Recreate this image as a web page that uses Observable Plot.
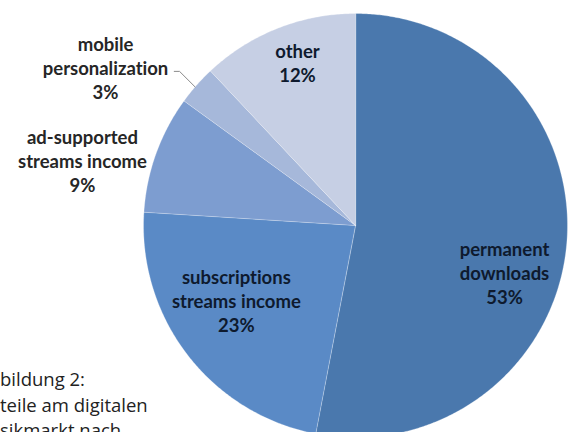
<!DOCTYPE html>
<html><head><meta charset="utf-8">
<script src="https://cdn.jsdelivr.net/npm/d3@7"></script>
<script src="https://cdn.jsdelivr.net/npm/@observablehq/plot@0.6"></script>
<style>
html,body{margin:0;padding:0;background:#fff;overflow:hidden;width:574px;height:432px}
#wrap{position:relative;width:574px;height:432px;overflow:hidden}
#wrap svg{position:absolute;left:0;top:0}
#wrap svg text{font-variant-ligatures:none}
#caption{position:absolute;left:0;top:366px;font-family:"Open Sans";font-size:18.5px;line-height:25.5px;color:#222;white-space:pre}
</style></head><body><div id="wrap"><div id="caption"></div></div>
<script>
// ---- data ----
const categories = ["permanent downloads", "subscriptions streams income", "ad-supported streams income", "mobile personalization", "other"];
const labelLines = [["permanent", "downloads"], ["subscriptions", "streams income"], ["ad-supported", "streams income"], ["mobile", "personalization"], ["other"]];
const shares = [53, 23, 9, 3, 12];
const colors = ["#4a78ad", "#5a8ac6", "#7d9dd0", "#a6b8da", "#c6cfe4"];
const captionLines = ["bildung 2:", "teile am digitalen", "sikmarkt nach"];

// ---- layout (label placement in polar terms: angle deg clockwise from 12 o'clock, radius fraction) ----
const labelPolar = [[107.5, 0.737], [237.8, 0.664], [283.4, 1.324], [302.3, 1.395], [340.4, 0.816]];
const labelInside = [true, true, false, false, true];

const table = categories.map((c, i) => ({name: c, share: shares[i], color: colors[i]}));
const arcs = d3.pie().sort(null).value(d => d.share)(table);

// polygon vertices for each slice from the pie angles
const slicePts = [];
arcs.forEach((a, i) => {
  slicePts.push({name: a.data.name, x: 0, y: 0});
  const n = Math.max(4, Math.ceil((a.endAngle - a.startAngle) / (Math.PI / 360)));
  for (let k = 0; k <= n; k++) {
    const t = a.startAngle + (a.endAngle - a.startAngle) * k / n;
    slicePts.push({name: a.data.name, x: Math.sin(t), y: Math.cos(t)});
  }
});

const labels = table.map((d, i) => {
  const [deg, r] = labelPolar[i];
  const t = deg * Math.PI / 180;
  return {text: [...labelLines[i], d.share + "%"].join("\n"), x: r * Math.sin(t), y: r * Math.cos(t), inside: labelInside[i]};
});

// leader line for the small "mobile personalization" slice
const mob = arcs[3];
const midT = (mob.startAngle + mob.endAngle) / 2;
const leader = [{x: -0.855, y: 0.727}, {x: -0.83, y: 0.727}, {x: Math.sin(midT - 0.01), y: Math.cos(midT - 0.01)}];

const plot = Plot.plot({
  width: 574, height: 432,
  marginLeft: 143, marginRight: 7, marginTop: 13, marginBottom: 0,
  x: {domain: [-1, 1], axis: null},
  y: {domain: [-0.976, 1], axis: null},
  color: {domain: categories, range: colors},
  style: {background: "transparent", overflow: "hidden"},
  marks: [
    Plot.line(slicePts, {x: "x", y: "y", z: "name", fill: "name", stroke: "#ffffff", strokeOpacity: 0.35, strokeWidth: 0.8, curve: "linear-closed"}),
    Plot.line(leader, {x: "x", y: "y", stroke: "#8a8a8a", strokeWidth: 1}),
    Plot.text(labels, {x: "x", y: "y", text: "text", fill: d => d.inside ? "#0e1a2e" : "#262626", fontFamily: "Lato", fontWeight: "bold", fontSize: 18.5, lineHeight: 1.3, textAnchor: "middle"})
  ]
});
document.getElementById("wrap").appendChild(plot);
document.getElementById("caption").textContent = captionLines.join("\n");
</script></body></html>
